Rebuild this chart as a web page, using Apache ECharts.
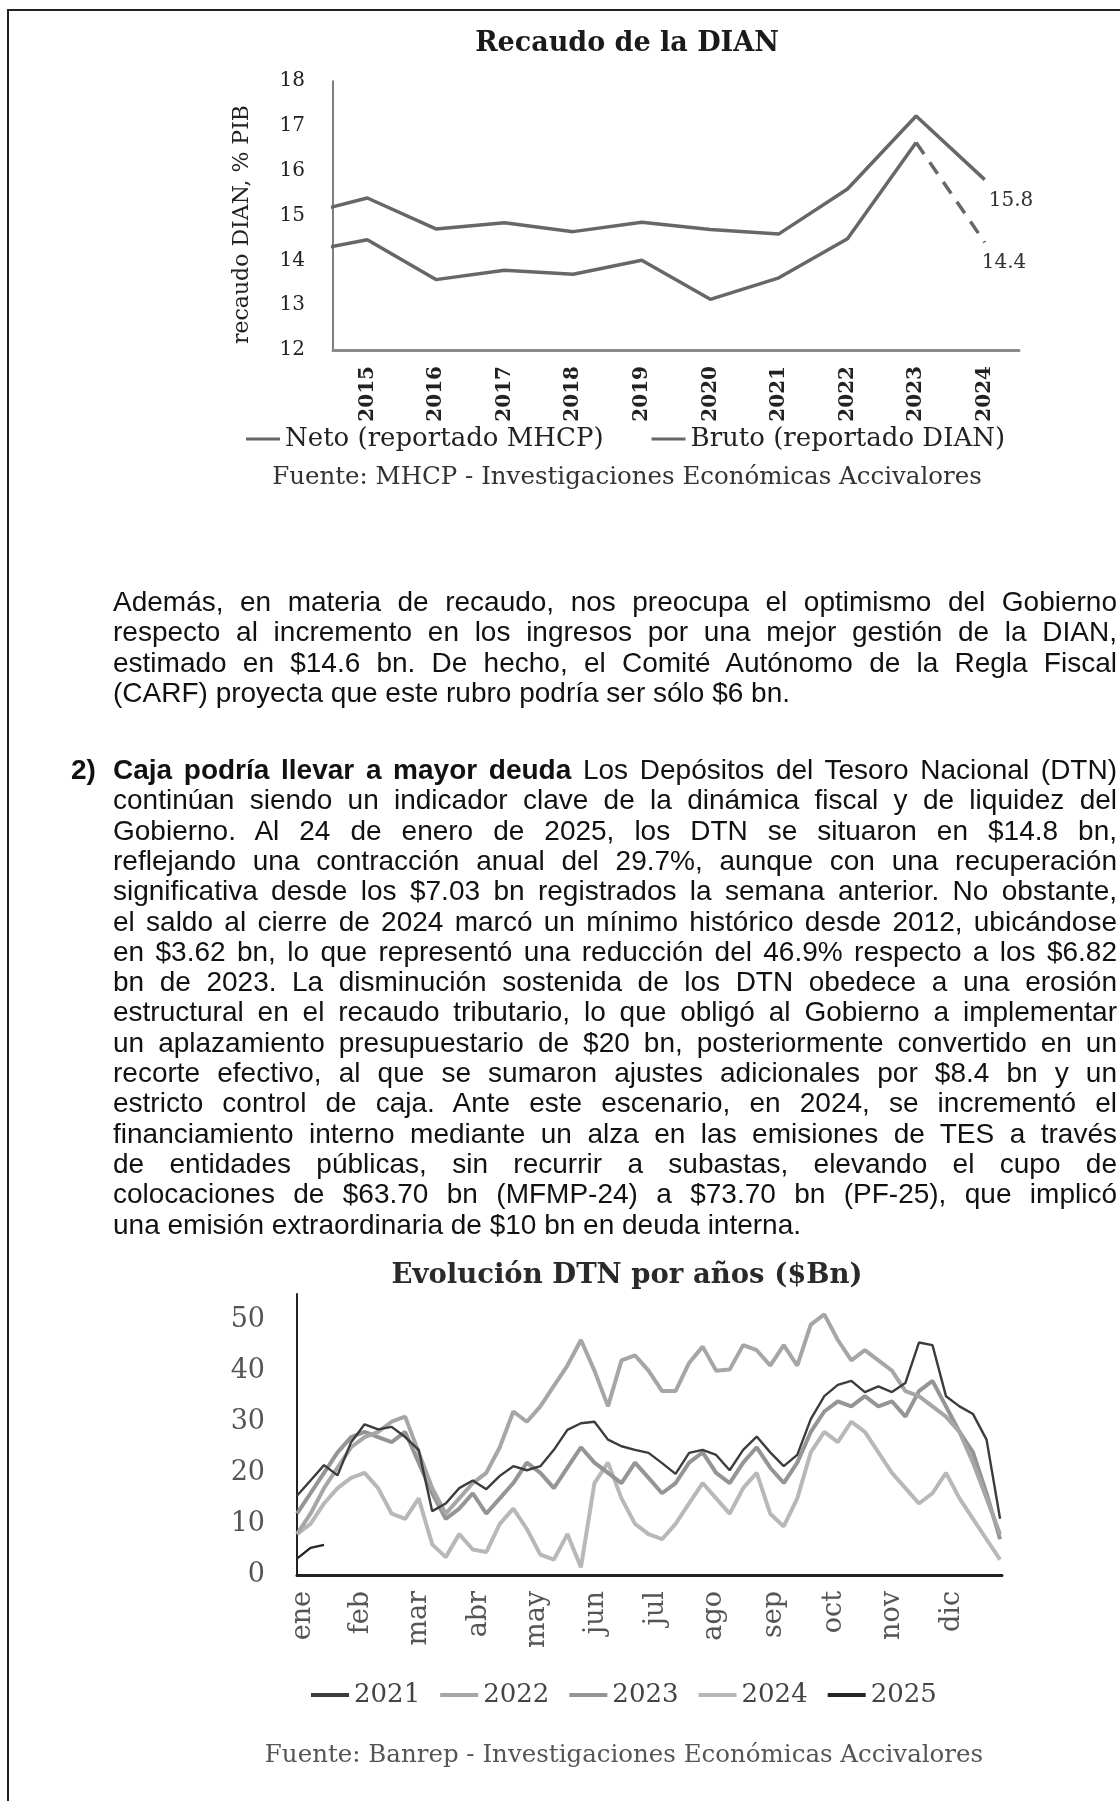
<!DOCTYPE html>
<html><head><meta charset="utf-8">
<script src="https://cdn.jsdelivr.net/npm/echarts@6/dist/echarts.min.js"></script>
<style>
html,body{margin:0;padding:0;background:#fff;}
#page{position:relative;width:1120px;height:1801px;overflow:hidden;background:#fff;}
#chart{position:absolute;left:0;top:0;width:1120px;height:1801px;}
#bl{position:absolute;left:7px;top:9px;width:2px;height:1792px;background:#222;}
#bt{position:absolute;left:7px;top:9px;width:1113px;height:2px;background:#222;}
.ln{position:absolute;left:113px;width:1004px;height:30px;line-height:30px;font-family:'Liberation Sans',Arial,sans-serif;font-size:28px;color:#111;text-align:justify;text-align-last:justify;}
.last{text-align:left;text-align-last:left;}
.num{position:absolute;left:71px;font-family:'Liberation Sans',Arial,sans-serif;font-size:28px;font-weight:bold;line-height:30px;color:#111;}
b{font-weight:bold;}
</style></head>
<body><div id="page">
<div id="chart"></div>
<div id="bl"></div><div id="bt"></div>
<div id="text"></div>
</div>
<script>
// ---------- Chart 1 data: Recaudo de la DIAN ----------
const yearsX = [2014, 2015, 2016, 2017, 2018, 2019, 2020, 2021, 2022, 2023, 2024];
const yearLabels = ['2015', '2016', '2017', '2018', '2019', '2020', '2021', '2022', '2023', '2024'];
const neto = [15.0, 15.39, 14.70, 14.84, 14.64, 14.85, 14.69, 14.59, 15.59, 17.22, 15.8];
const bruto = [14.16, 14.46, 13.57, 13.78, 13.69, 14.0, 13.13, 13.61, 14.48, 16.63, 14.4];
const yTicks1 = [12, 13, 14, 15, 16, 17, 18];

// ---------- Chart 2 data: Evolución DTN por años ($Bn) ----------
const monthLabels = ['ene', 'feb', 'mar', 'abr', 'may', 'jun', 'jul', 'ago', 'sep', 'oct', 'nov', 'dic'];
const monthTickDay = [3, 33, 63, 94, 124, 155, 186, 216, 247, 278, 308, 339];
const days = [0, 7, 14, 21, 28, 35, 42, 49, 56, 63, 70, 77, 84, 91, 98, 105, 112, 119, 126, 133, 140, 147, 154, 161, 168, 175, 182, 189, 196, 203, 210, 217, 224, 231, 238, 245, 252, 259, 266, 273, 280, 287, 294, 301, 308, 315, 322, 329, 336, 343, 350, 357, 364];
const dtn2021 = [15.5, 18.5, 21.5, 19.5, 26, 29.5, 28.5, 29, 27, 24.5, 12.5, 14, 17, 18.5, 16.8, 19.4, 21.3, 20.5, 21.3, 24.5, 28.4, 29.7, 30, 26.5, 25.2, 24.5, 23.9, 21.9, 19.8, 23.9, 24.5, 23.5, 20.5, 24.5, 27.1, 24, 21.3, 23.5, 30.5, 35, 37.2, 38, 35.8, 36.9, 35.8, 37.6, 45.5, 45, 35, 33, 31.5, 26.5, 11];
const dtn2022 = [8, 12, 17, 21, 25, 27, 28, 30, 31, 24, 17, 12, 15, 18, 20, 25, 32, 30, 33, 37, 41, 46, 40, 33, 42, 43, 40, 36, 36, 41.5, 44.7, 40, 40.2, 45, 44, 41, 45, 41, 49, 51, 46, 42, 44, 42, 40, 36, 35, 33, 31, 28, 22, 15, 8];
const dtn2023 = [12, 16, 20, 24, 27, 28, 27, 26, 28, 22, 16, 11, 13, 16, 12, 15, 18, 22, 20, 17, 21, 25, 22, 20, 18, 22, 19, 16, 18, 22, 24, 20, 18, 22, 25, 21, 18, 22, 28, 32, 34, 33, 35, 33, 34, 31, 36, 38, 33, 28, 24, 16, 7];
const dtn2024 = [8, 10, 14, 17, 19, 20, 17, 12, 11, 15, 6, 3.5, 8, 5, 4.5, 10, 13, 9, 4, 3, 8, 1.5, 18, 22, 15, 10, 8, 7, 10, 14, 18, 15, 12, 17, 20, 12, 9.5, 15, 24, 28, 26, 30, 28, 24, 20, 17, 14, 16, 20, 15, 11, 7, 3];
const dtn2025 = [3.2, 5.3, 5.9];

// ---------- Body text ----------
const para1 = [
  'Además, en materia de recaudo, nos preocupa el optimismo del Gobierno',
  'respecto al incremento en los ingresos por una mejor gestión de la DIAN,',
  'estimado en $14.6 bn. De hecho, el Comité Autónomo de la Regla Fiscal',
  '(CARF) proyecta que este rubro podría ser sólo $6 bn.'
];
const para2Bold = 'Caja podría llevar a mayor deuda';
const para2 = [
  ' Los Depósitos del Tesoro Nacional (DTN)',
  'continúan siendo un indicador clave de la dinámica fiscal y de liquidez del',
  'Gobierno. Al 24 de enero de 2025, los DTN se situaron en $14.8 bn,',
  'reflejando una contracción anual del 29.7%, aunque con una recuperación',
  'significativa desde los $7.03 bn registrados la semana anterior. No obstante,',
  'el saldo al cierre de 2024 marcó un mínimo histórico desde 2012, ubicándose',
  'en $3.62 bn, lo que representó una reducción del 46.9% respecto a los $6.82',
  'bn de 2023. La disminución sostenida de los DTN obedece a una erosión',
  'estructural en el recaudo tributario, lo que obligó al Gobierno a implementar',
  'un aplazamiento presupuestario de $20 bn, posteriormente convertido en un',
  'recorte efectivo, al que se sumaron ajustes adicionales por $8.4 bn y un',
  'estricto control de caja. Ante este escenario, en 2024, se incrementó el',
  'financiamiento interno mediante un alza en las emisiones de TES a través',
  'de entidades públicas, sin recurrir a subastas, elevando el cupo de',
  'colocaciones de $63.70 bn (MFMP-24) a $73.70 bn (PF-25), que implicó',
  'una emisión extraordinaria de $10 bn en deuda interna.'
];

(function buildText(){
  const box = document.getElementById('text');
  const esc = s => s.replace(/&/g,'&amp;').replace(/</g,'&lt;');
  const p1Top = 587, p2Top = 755, lh = 30.3;
  const fit = d => { let fs = 28; while (d.scrollHeight > 40 && fs > 18) { fs -= 0.5; d.style.fontSize = fs + 'px'; } };
  para1.forEach((t, i) => {
    const d = document.createElement('div');
    d.className = 'ln' + (i === para1.length - 1 ? ' last' : '');
    d.style.top = (p1Top + i * lh) + 'px';
    d.textContent = t;
    box.appendChild(d); fit(d);
  });
  const n = document.createElement('div');
  n.className = 'num'; n.style.top = p2Top + 'px'; n.textContent = '2)';
  box.appendChild(n);
  para2.forEach((t, i) => {
    const d = document.createElement('div');
    d.className = 'ln' + (i === para2.length - 1 ? ' last' : '');
    d.style.top = (p2Top + i * lh) + 'px';
    if (i === 0) d.innerHTML = '<b>' + esc(para2Bold) + '</b>' + esc(t);
    else d.textContent = t;
    box.appendChild(d); fit(d);
  });
})();

const serif = "'DejaVu Serif', 'Liberation Serif', serif";
const c1Line = '#676767';
const colors2 = {'2021': '#3c3c3c', '2022': '#a6a6a6', '2023': '#959595', '2024': '#b8b8b8', '2025': '#262626'};

const netoData = yearsX.map((y, i) => [y, neto[i]]);
const brutoSolid = yearsX.slice(0, yearsX.length - 1).map((y, i) => [y, bruto[i]]);
const brutoProj = yearsX.slice(yearsX.length - 2).map((y, i) => [y, bruto[yearsX.length - 2 + i]]);

const mk2 = (name, arr, width) => ({
  name: name, type: 'line', xAxisIndex: 1, yAxisIndex: 1, symbol: 'none',
  data: arr.map((v, i) => [days[i], v]),
  lineStyle: {color: colors2[name], width: width}, itemStyle: {color: colors2[name]}
});

const chart = echarts.init(document.getElementById('chart'));
chart.setOption({
  animation: false,
  backgroundColor: 'transparent',
  graphic: [
    {type: 'text', x: 627, y: 44, style: {text: 'Recaudo de la DIAN', align: 'center', verticalAlign: 'middle', fontFamily: serif, fontWeight: 'bold', fontSize: 27, fill: '#1a1a1a'}},
    {type: 'text', x: 627, y: 478, style: {text: 'Fuente: MHCP - Investigaciones Económicas Accivalores', align: 'center', verticalAlign: 'middle', fontFamily: serif, fontSize: 24.5, fill: '#333'}},
    {type: 'text', x: 627, y: 1276, style: {text: 'Evolución DTN por años ($Bn)', align: 'center', verticalAlign: 'middle', fontFamily: serif, fontWeight: 'bold', fontSize: 27.5, fill: '#2a2a2a'}},
    {type: 'text', x: 624, y: 1756, style: {text: 'Fuente: Banrep - Investigaciones Económicas Accivalores', align: 'center', verticalAlign: 'middle', fontFamily: serif, fontSize: 24.5, fill: '#555'}}
  ],
  legend: [
    {
      data: ['Neto (reportado MHCP)', 'Bruto (reportado DIAN)'],
      left: 241, top: 421, icon: 'rect', itemWidth: 34, itemHeight: 3, itemGap: 48,
      textStyle: {fontFamily: serif, fontSize: 26, color: '#222'}
    },
    {
      data: ['2021', '2022', '2023', '2024', '2025'],
      left: 306, top: 1677, icon: 'rect', itemWidth: 38, itemHeight: 4, itemGap: 20,
      textStyle: {fontFamily: serif, fontSize: 26, color: '#444'}
    }
  ],
  grid: [
    {left: 333, top: 81, width: 686, height: 269},
    {left: 297, top: 1294, width: 705, height: 281}
  ],
  xAxis: [
    {
      type: 'value', gridIndex: 0, min: 2014.5, max: 2024.5,
      axisLine: {show: true, lineStyle: {color: '#8a8a8a', width: 3}},
      axisTick: {show: false}, splitLine: {show: false},
      axisLabel: {customValues: yearLabels.map(Number), rotate: 90, margin: 16,
        formatter: v => yearLabels[yearLabels.indexOf(String(v))],
        fontFamily: serif, fontWeight: 'bold', fontSize: 20, color: '#222'}
    },
    {
      type: 'value', gridIndex: 1, min: 0, max: 365,
      axisLine: {show: true, lineStyle: {color: '#222', width: 3}},
      axisTick: {show: false}, splitLine: {show: false},
      axisLabel: {customValues: monthTickDay, rotate: 90, margin: 16,
        formatter: v => monthLabels[monthTickDay.indexOf(v)],
        fontFamily: serif, fontSize: 27, color: '#555'}
    }
  ],
  yAxis: [
    {
      type: 'value', gridIndex: 0, min: yTicks1[0], max: yTicks1[yTicks1.length - 1], interval: 1,
      axisLine: {show: true, lineStyle: {color: '#555', width: 1.5}},
      axisTick: {show: false}, splitLine: {show: false},
      axisLabel: {margin: 28, fontFamily: serif, fontSize: 20, color: '#222'},
      name: 'recaudo DIAN, % PIB', nameLocation: 'middle', nameGap: 80,
      nameTextStyle: {fontFamily: serif, fontSize: 22, color: '#222', padding: [0, 18, 0, 0]}
    },
    {
      type: 'value', gridIndex: 1, min: 0, max: 55, interval: 10,
      axisLine: {show: true, lineStyle: {color: '#222', width: 2}},
      axisTick: {show: false}, splitLine: {show: false},
      axisLabel: {margin: 32, showMaxLabel: false, fontFamily: serif, fontSize: 27, color: '#555'}
    }
  ],
  series: [
    {name: 'Neto (reportado MHCP)', type: 'line', xAxisIndex: 0, yAxisIndex: 0, symbol: 'none', data: netoData,
     lineStyle: {color: c1Line, width: 3.5}, itemStyle: {color: c1Line},
     endLabel: {show: true, offset: [-4, 21], formatter: p => p.value[1].toFixed(1), fontFamily: serif, fontSize: 20, color: '#333'}},
    {name: 'Bruto (reportado DIAN)', type: 'line', xAxisIndex: 0, yAxisIndex: 0, symbol: 'none', data: brutoSolid,
     lineStyle: {color: c1Line, width: 3.5}, itemStyle: {color: c1Line}},
    {name: 'Bruto proyectado', type: 'line', xAxisIndex: 0, yAxisIndex: 0, symbol: 'none', data: brutoProj,
     lineStyle: {color: c1Line, width: 3.5, type: [14, 10]}, itemStyle: {color: c1Line},
     endLabel: {show: true, offset: [-11, 20], formatter: p => p.value[1].toFixed(1), fontFamily: serif, fontSize: 20, color: '#333'}},
    mk2('2024', dtn2024, 4),
    mk2('2023', dtn2023, 4),
    mk2('2022', dtn2022, 4),
    mk2('2021', dtn2021, 2.4),
    mk2('2025', dtn2025, 2.4)
  ]
});
</script>
</body></html>
